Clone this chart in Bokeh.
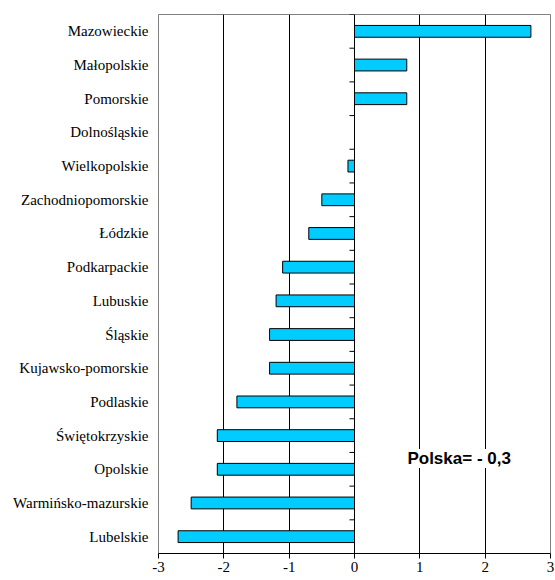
from bokeh.plotting import figure
from bokeh.models import FixedTicker, Span, Label, ColumnDataSource
from bokeh.embed import file_html
from bokeh.resources import INLINE

regions = ["Mazowieckie", "Małopolskie", "Pomorskie", "Dolnośląskie", "Wielkopolskie",
           "Zachodniopomorskie", "Łódzkie", "Podkarpackie", "Lubuskie", "Śląskie",
           "Kujawsko-pomorskie", "Podlaskie", "Świętokrzyskie", "Opolskie",
           "Warmińsko-mazurskie", "Lubelskie"]
values = [2.7, 0.8, 0.8, 0.0, -0.1, -0.5, -0.7, -1.1, -1.2, -1.3, -1.3, -1.8, -2.1, -2.1, -2.5, -2.7]
x_ticks = [-3, -2, -1, 0, 1, 2, 3]
x_tick_labels = ["-3", "-2", "-1", "0", "1", "2", "3"]
annotation = "Polska= - 0,3"

n = len(regions)
ypos = [n - 1 - i for i in range(n)]

p = figure(width=555, height=580, x_range=(-3, 3), y_range=(-0.5, n - 0.5),
           output_backend="svg", toolbar_location=None)
p.min_border = 0
p.min_border_left = 158
p.min_border_top = 14
p.min_border_right = 5
p.min_border_bottom = 27
p.outline_line_color = "#808080"
p.outline_line_width = 1
p.background_fill_color = "white"
p.border_fill_color = "white"

src = ColumnDataSource(dict(y=ypos, v=values, name=regions))
p.hbar(y="y", left=0, right="v", height=0.35, source=src,
       fill_color="#00CCFF", line_color="black", line_width=1)

# zero axis
p.add_layout(Span(location=0, dimension="height", line_color="black", line_width=1))
bounds = [i - 0.5 for i in range(n + 1)]
p.segment(x0=[-0.077] * len(bounds), x1=[0] * len(bounds), y0=bounds, y1=bounds,
          line_color="black", line_width=1)

# grid
p.xgrid.ticker = FixedTicker(ticks=[t for t in x_ticks if t not in (-3, 0, 3)])
p.xgrid.grid_line_color = "black"
p.xgrid.grid_line_width = 1
p.ygrid.grid_line_color = None

# x axis
p.xaxis.ticker = FixedTicker(ticks=x_ticks)
p.xaxis.major_label_overrides = {t: s for t, s in zip(x_ticks, x_tick_labels)}
p.xaxis.axis_line_color = "black"
p.xaxis.major_tick_in = 0
p.xaxis.major_tick_out = 5
p.xaxis.major_tick_line_color = "black"
p.xaxis.minor_tick_line_color = None
p.xaxis.major_label_standoff = 3
p.xaxis.major_label_text_font = "Liberation Serif"
p.xaxis.major_label_text_font_size = "15px"
p.xaxis.major_label_text_color = "black"

# y axis
p.yaxis.ticker = FixedTicker(ticks=ypos)
p.yaxis.major_label_overrides = {y: name for y, name in zip(ypos, regions)}
p.yaxis.axis_line_color = None
p.yaxis.major_tick_line_color = None
p.yaxis.minor_tick_line_color = None
p.yaxis.major_tick_in = 0
p.yaxis.major_tick_out = 0
p.yaxis.major_label_standoff = 10
p.yaxis.major_label_text_font = "Liberation Serif"
p.yaxis.major_label_text_font_size = "15px"
p.yaxis.major_label_text_color = "black"

p.add_layout(Label(x=0.81, y=2.32, text=annotation, text_font="Liberation Sans",
                   text_font_style="bold", text_font_size="17px",
                   text_baseline="middle", text_align="left", text_color="black",
                   background_fill_color="white", background_fill_alpha=1.0))

open("out.html", "w").write(file_html(p, INLINE))
